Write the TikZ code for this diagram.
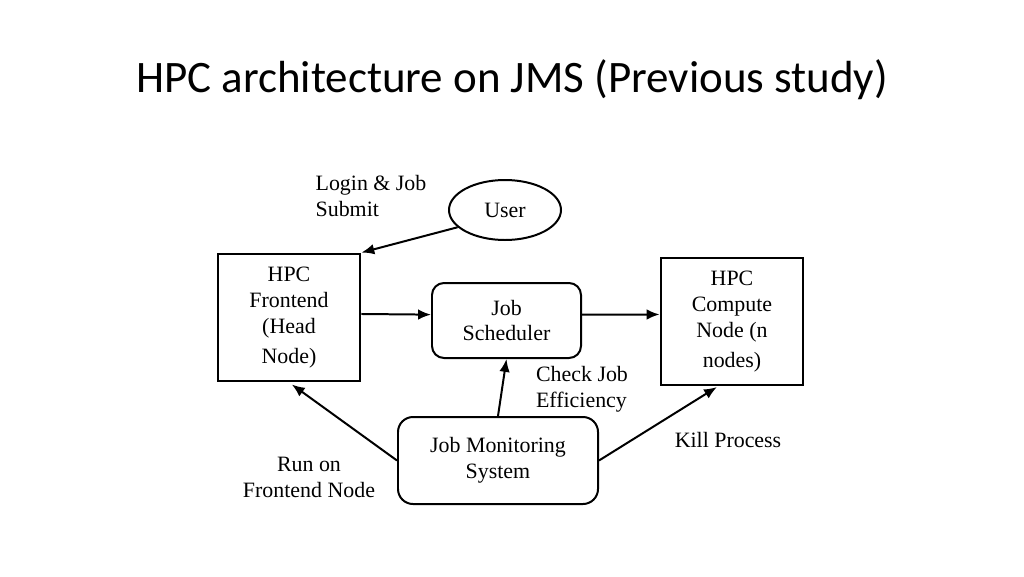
\documentclass[tikz,border=0pt]{standalone}
\usepackage{fontspec}
\setmainfont{Liberation Serif}
\newfontfamily\titlefont{Carlito}
\usetikzlibrary{shapes.geometric,arrows.meta}
\begin{document}
\begin{tikzpicture}[x=0.03cm,y=-0.03cm,
  txt/.style={font=\fontsize{18.7}{22.1}\selectfont, inner sep=0pt, align=center},
  sqbox/.style={draw, line width=2.4pt, minimum width=142*0.03cm, minimum height=127*0.03cm, inner sep=0pt, align=center, font=\fontsize{18.7}{22.1}\selectfont},
  rbox/.style={draw, line width=1.7pt, rounded corners=12*0.03cm, inner sep=0pt, align=center, font=\fontsize{18.7}{22.1}\selectfont},
  arr/.style={-{Latex[length=11pt,width=9pt]}, line width=1.7pt}]
\useasboundingbox (0,0) rectangle (1024,576);
\node[font=\titlefont\fontsize{38.4}{44}\selectfont, inner sep=0pt] (title) at (512,80) {HPC architecture on JMS (Previous study)};
\node[draw, ellipse, line width=1.7pt, minimum width=112*0.03cm, minimum height=60*0.03cm, inner sep=0pt, font=\fontsize{18.7}{22.1}\selectfont] (user) at (505,210) {User};
\node[txt, align=left] (login) at (371,196) {Login \& Job\\Submit};
\node[sqbox] (fe) at (289,317.5) {\raisebox{-3pt}{\parbox{4cm}{\centering HPC\\Frontend\\(Head\\[4pt]Node)}}};
\node[rbox, minimum width=149*0.03cm, minimum height=75*0.03cm] (js) at (506.5,320.5) {Job\\Scheduler};
\node[sqbox] (cn) at (732,321.5) {\raisebox{-3pt}{\parbox{4cm}{\centering HPC\\Compute\\Node (n\\[4pt]nodes)}}};
\node[rbox, minimum width=200*0.03cm, minimum height=87*0.03cm, rounded corners=15*0.03cm] (jms) at (498,460.5) {Job Monitoring\\System};
\node[txt, align=left] (check) at (582,389) {Check Job\\Efficiency};
\node[txt] (kill) at (728,440) {Kill Process};
\node[txt] (run) at (309,477) {Run on\\Frontend Node};
\draw[arr] (user.200) -- (fe.north east);
\draw[arr] ([yshift=3pt]fe.east) -- ([yshift=5pt]js.west);
\draw[arr] ([yshift=5pt]js.east) -- ([yshift=6pt]cn.west);
\draw[arr] (jms.north) -- (js.south);
\draw[arr, shorten >=3pt] (jms.west) -- (fe.south);
\draw[arr, shorten >=1pt] (jms.east) -- ([xshift=-12pt]cn.south);
\end{tikzpicture}
\end{document}
